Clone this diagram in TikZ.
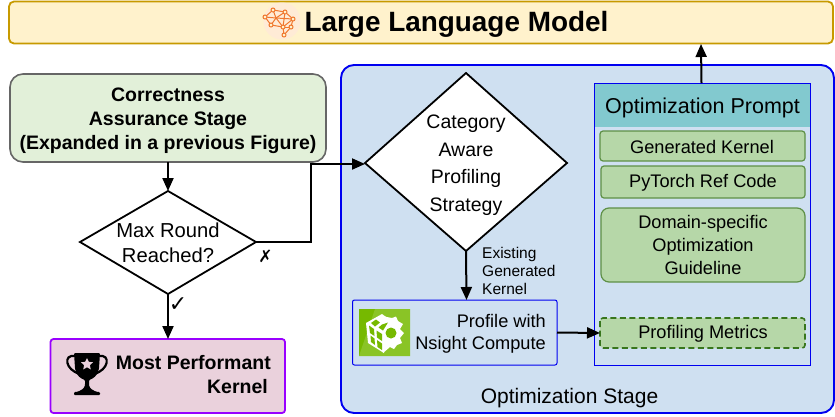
\documentclass[tikz,border=0pt]{standalone}
\usepackage{fontspec}
\setmainfont{Liberation Sans}
\newfontfamily\symfont{DejaVu Sans}
\usetikzlibrary{arrows.meta}
\definecolor{llmfill}{HTML}{FFF2CC}
\definecolor{llmline}{HTML}{C79A00}
\definecolor{corrfill}{HTML}{E2F0D9}
\definecolor{corrline}{HTML}{666666}
\definecolor{optfill}{HTML}{CFE0F1}
\definecolor{optblue}{HTML}{0000F0}
\definecolor{headfill}{HTML}{82C9CF}
\definecolor{greenfill}{HTML}{B6D7A8}
\definecolor{greenline}{HTML}{5E9046}
\definecolor{dashline}{HTML}{38761D}
\definecolor{pinkfill}{HTML}{EAD1DC}
\definecolor{purpleline}{HTML}{9900FF}
\definecolor{nvgreen}{HTML}{76B900}
\definecolor{brainc}{HTML}{F0772E}
\definecolor{brainbg}{HTML}{FFEBD6}
\tikzset{
  x=1pt,y=-1pt,
  txt/.style={inner sep=0pt,align=center,text=black},
  greenbox/.style={draw=greenline,fill=greenfill,line width=1.2pt,rounded corners=3pt},
  flow/.style={line width=2pt,draw=black,-{Triangle[length=13pt,width=11pt]}},
  decide/.style={draw=black,fill=white,line width=1.8pt},
}
\begin{document}
\begin{tikzpicture}
\useasboundingbox (0,0) rectangle (835,416);
% LLM
\draw[draw=llmline,fill=llmfill,line width=1.8pt,rounded corners=5pt] (9,1.5) rectangle (833,43.5);
\coordinate (llmport) at (701,44);
\fill[brainbg] (282,21) circle (18.5);
\begin{scope}[brainc,line width=1pt]
 \foreach \a/\b/\c/\d in {265/17/273/10, 273/10/285/12, 285/12/293/19, 293/19/291/27, 291/27/283/27, 283/27/271/25, 271/25/265/17, 273/10/276/18, 265/17/276/18, 276/18/293/19, 276/18/271/25, 276/18/283/27, 285/12/276/18, 285/12/283/27, 283/27/293/19, 283/27/284/35, 291/27/284/35}
   \draw (\a,\b) -- (\c,\d);
 \foreach \a/\b in {265/17,273/10,285/12,293/19,291/27,283/27,271/25,284/35}
   \draw[fill=llmfill] (\a,\b) circle (2);
\end{scope}
\node[txt,font=\bfseries\fontsize{27.9}{32}\selectfont] (llm) at (456.5,24.5) {Large Language Model};
% Optimization container
\draw[draw=optblue,fill=optfill,line width=1.9pt,rounded corners=13pt] (341,65) rectangle (834,413);
\node[txt,font=\fontsize{21}{25}\selectfont] (optlab) at (569.5,398) {Optimization Stage};
% Prompt
\fill[headfill] (594.5,83) rectangle (810,127);
\draw[draw=optblue,line width=1pt] (594.5,83) rectangle (810,365);
\coordinate (promptin) at (701.5,83);
\node[txt,font=\fontsize{21.5}{25}\selectfont] (prompt) at (702.5,108) {Optimization Prompt};
\draw[greenbox] (600,131) rectangle (805,161);
\node[txt,font=\fontsize{18.2}{22}\selectfont] (gk) at (702,146.5) {Generated Kernel};
\draw[greenbox] (601,166) rectangle (805,198);
\node[txt,font=\fontsize{18.2}{22}\selectfont] (pt) at (703,183) {PyTorch Ref Code};
\draw[greenbox,rounded corners=8pt] (601,208) rectangle (805,282);
\node[txt,font=\fontsize{18.2}{23}\selectfont] (dom) at (703,244.5) {Domain-specific\\Optimization\\Guideline};
\draw[draw=dashline,fill=greenfill,line width=1.6pt,dash pattern=on 6pt off 3.5pt,rounded corners=3pt] (600,318) rectangle (805,348);
\node[txt,font=\fontsize{18.2}{22}\selectfont] (metrics) at (703,333.5) {Profiling Metrics};
\coordinate (metricsin) at (600,333);
% Correctness
\draw[draw=corrline,fill=corrfill,line width=1.6pt,rounded corners=13pt] (10,74) rectangle (326,162);
\node[txt,font=\bfseries\fontsize{19.5}{24}\selectfont] (corr) at (168,120.5) {Correctness\\Assurance Stage\\(Expanded in a previous Figure)};
\coordinate (corrs) at (168,162);
% Max diamond
\draw[decide] (80,242) -- (168,191) -- (256,242) -- (168,294) -- cycle;
\node[txt,font=\fontsize{20.2}{25}\selectfont] (maxr) at (168,242.5) {Max Round\\Reached?};
\coordinate (maxt) at (168,191);
\coordinate (maxb) at (168,294);
\coordinate (maxe) at (256,242);
% Category diamond
\draw[decide] (365,163) -- (466,73) -- (567,163) -- (466,251) -- cycle;
\node[txt,font=\fontsize{19.5}{27.5}\selectfont] (cat) at (466,165) {Category\\Aware\\Profiling\\Strategy};
\coordinate (catl) at (365,164);
\coordinate (catb) at (466,251);
% Profile
\draw[draw=optblue,line width=1pt,rounded corners=2pt] (352.5,300) rectangle (557,365);
\coordinate (proft) at (466.5,300);
\coordinate (profr) at (557,332.5);
\node[txt,align=right,font=\fontsize{18.2}{22}\selectfont,anchor=east] (prof) at (546,333.5) {Profile with\\Nsight Compute};
\node[txt,align=left,font=\fontsize{15.5}{18}\selectfont,anchor=west] (exist) at (482,271) {Existing\\Generated\\Kernel};
% Nsight icon
\fill[nvgreen] (359,309) rectangle (410,356);
\fill[nvgreen!85!white] (359,356) -- (375,309) -- (410,309) -- (410,356) -- cycle;
\fill[white] (382,316) -- (392,318) -- (396,316.5) -- (398,321) -- (403,324) -- (400,329) -- (404,333) -- (400,338) -- (402,343) -- (397,345) -- (394,349) -- (390,347) -- (383,353) -- cycle;
\fill[nvgreen] (391,333) circle (5.5);
\fill[white] (382,314) -- (393,322) -- (384,332) -- (384,353) -- (368,343) -- (366,323) -- cycle;
\fill[nvgreen] (369,325.5) -- (374,329) -- (374.5,336) -- (370,333) -- cycle;
\fill[nvgreen] (376.5,330.5) -- (382,334) -- (382,341) -- (377,337.5) -- cycle;
\fill[nvgreen] (370.5,335.5) -- (374.5,338.5) -- (375,345) -- (371,342) -- cycle;
\fill[nvgreen] (377,340) -- (382,343.5) -- (382,350) -- (377.5,347) -- cycle;
\fill[nvgreen] (371,323) -- (376,319.5) -- (380,322.5) -- (375,326.5) -- cycle;
\fill[nvgreen] (378.5,327.5) -- (382,324.5) -- (388,322.5) -- (383,330.5) -- cycle;
% Most performant
\draw[draw=purpleline,fill=pinkfill,line width=1.8pt,rounded corners=3pt] (50.5,339) rectangle (285,413);
\coordinate (mostt) at (168,339);
\node[txt,align=right,font=\bfseries\fontsize{19.5}{24}\selectfont,anchor=east] (most) at (271,374.5) {Most Performant\\Kernel\kern3pt};
% Trophy
\draw[black,line width=2.2pt] (75,356) .. controls (63,354) and (65,370) .. (80,374);
\draw[black,line width=2.2pt] (99,356) .. controls (111,354) and (109,370) .. (94,374);
\fill[black,rounded corners=1pt] (74,353) -- (100,353) -- (99,368) .. controls (98,376) and (92,379) .. (89,380) -- (89,385) .. controls (90,389) and (94,391) .. (98,392) -- (100,392) -- (100,395) -- (74,395) -- (74,392) -- (76,392) .. controls (80,391) and (84,389) .. (85,385) -- (85,380) .. controls (82,379) and (76,376) .. (75,368) -- cycle;
\fill[pinkfill] (87,358) -- (88.8,361.8) -- (93,362.3) -- (89.9,365.2) -- (90.8,369.4) -- (87,367.3) -- (83.2,369.4) -- (84.1,365.2) -- (81,362.3) -- (85.2,361.8) -- cycle;
% Connectors
\draw[flow] (corrs) -- (maxt);
\draw[flow] (maxb) -- (mostt);
\node[txt,font=\symfont\fontsize{22}{22}\selectfont] (tick) at (178,305) {✓};
\draw[flow] (maxe) -- (310.5,242) -- (310.5,164) -- (catl);
\node[txt,font=\symfont\fontsize{17}{17}\selectfont] (cross) at (265.5,256.5) {✗};
\draw[flow] (catb) -- (proft);
\draw[flow] (profr) -- (metricsin);
\draw[flow] (promptin) -- (llmport);
\end{tikzpicture}
\end{document}
